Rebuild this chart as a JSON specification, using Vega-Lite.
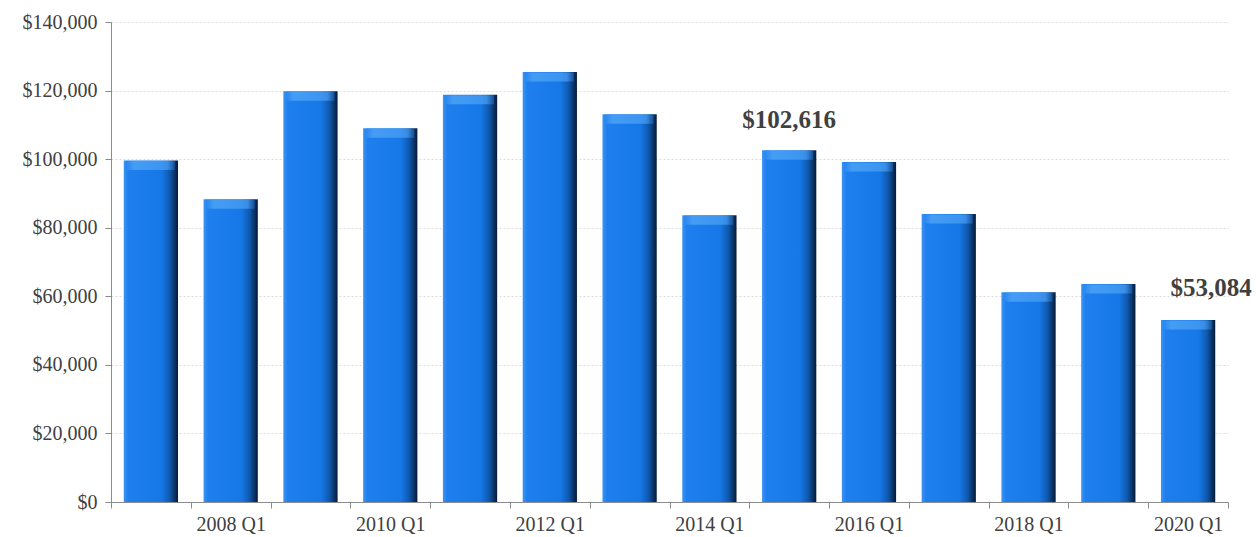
{
  "$schema": "https://vega.github.io/schema/vega-lite/v6.json",
  "width": 1117,
  "height": 480,
  "autosize": {"type": "none"},
  "padding": {"left": 111, "top": 22, "right": 28, "bottom": 35},
  "background": "white",
  "config": {
    "view": {"stroke": null},
    "font": "Liberation Serif",
    "axis": {"labelFont": "Liberation Serif", "labelFontSize": 20, "labelColor": "#404040", "domainColor": "#8c8c8c", "tickColor": "#8c8c8c", "title": null}
  },
  "data": {
    "values": [
      {"period": "2007 Q1", "value": 99600, "label": ""},
      {"period": "2008 Q1", "value": 88300, "label": ""},
      {"period": "2009 Q1", "value": 119800, "label": ""},
      {"period": "2010 Q1", "value": 109000, "label": ""},
      {"period": "2011 Q1", "value": 118800, "label": ""},
      {"period": "2012 Q1", "value": 125400, "label": ""},
      {"period": "2013 Q1", "value": 113100, "label": ""},
      {"period": "2014 Q1", "value": 83600, "label": ""},
      {"period": "2015 Q1", "value": 102616, "label": "$102,616"},
      {"period": "2016 Q1", "value": 99200, "label": ""},
      {"period": "2017 Q1", "value": 84000, "label": ""},
      {"period": "2018 Q1", "value": 61200, "label": ""},
      {"period": "2019 Q1", "value": 63600, "label": ""},
      {"period": "2020 Q1", "value": 53084, "label": "$53,084"}
    ]
  },
  "encoding": {
    "x": {
      "field": "period", "type": "nominal", "sort": null,
      "scale": {"paddingInner": 0, "paddingOuter": 0},
      "axis": {
        "labelAngle": 0, "tickBand": "extent", "tickSize": 6, "labelPadding": 6,
        "labelExpr": "indexof(['2008 Q1','2010 Q1','2012 Q1','2014 Q1','2016 Q1','2018 Q1','2020 Q1'], datum.value) >= 0 ? datum.value : ''"
      }
    },
    "y": {
      "field": "value", "type": "quantitative",
      "scale": {"domain": [0, 140000], "nice": false},
      "axis": {
        "values": [0, 20000, 40000, 60000, 80000, 100000, 120000, 140000],
        "format": "$,.0f", "tickSize": 6, "labelPadding": 8,
        "grid": true, "gridColor": "#dcdcdc", "gridDash": [2, 2], "gridWidth": 1
      }
    }
  },
  "layer": [
    {
      "mark": {
        "type": "bar", "width": {"band": 0.68},
        "color": {
          "gradient": "linear", "x1": 0, "x2": 1, "y1": 0, "y2": 0,
          "stops": [
            {"offset": 0, "color": "#3d95f2"},
            {"offset": 0.08, "color": "#1f7fee"},
            {"offset": 0.7, "color": "#1677e6"},
            {"offset": 0.85, "color": "#0f58ad"},
            {"offset": 1, "color": "#061a35"}
          ]
        }
      }
    },
    {
      "mark": {"type": "tick", "orient": "horizontal", "thickness": 9, "size": 48, "yOffset": 5,
        "color": {
          "gradient": "linear", "x1": 0, "x2": 1, "y1": 0, "y2": 0,
          "stops": [
            {"offset": 0, "color": "#2f8cf0"},
            {"offset": 0.15, "color": "#56aaf7"},
            {"offset": 0.85, "color": "#4aa0f4"},
            {"offset": 1, "color": "#1a5aa8"}
          ]
        }
      }
    },
    {
      "transform": [{"filter": "datum.label == '$102,616'"}],
      "mark": {"type": "text", "font": "Liberation Serif", "fontWeight": "bold", "fontSize": 25, "color": "#404040", "baseline": "bottom", "dy": -17},
      "encoding": {"text": {"field": "label"}}
    },
    {
      "transform": [{"filter": "datum.label == '$53,084'"}],
      "mark": {"type": "text", "font": "Liberation Serif", "fontWeight": "bold", "fontSize": 25, "color": "#404040", "baseline": "bottom", "dy": -19, "dx": 23},
      "encoding": {"text": {"field": "label"}}
    }
  ]
}
